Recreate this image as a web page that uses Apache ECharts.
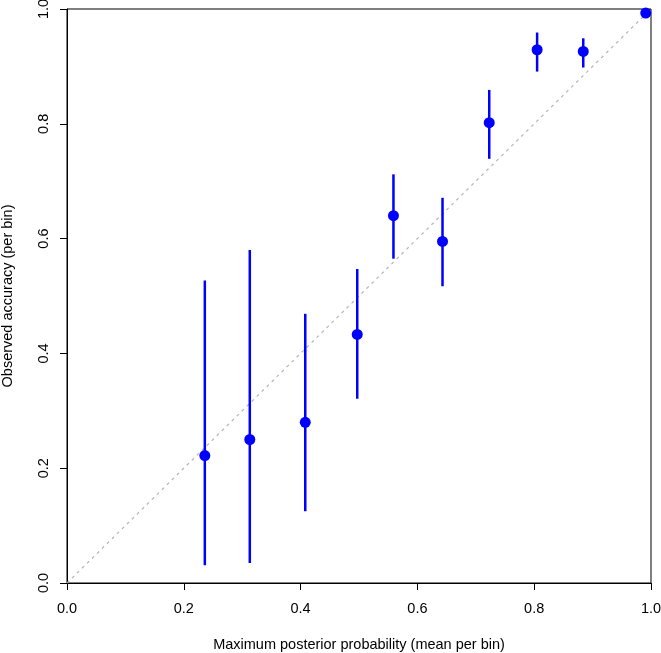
<!DOCTYPE html>
<html>
<head>
<meta charset="utf-8">
<script src="https://cdn.jsdelivr.net/npm/echarts@6/dist/echarts.min.js"></script>
<style>html,body{margin:0;padding:0;background:#fff;}#c{width:661px;height:653px;}</style>
</head>
<body>
<div id="c"></div>
<script>
var meanProb = [0.236, 0.313, 0.408, 0.497, 0.559, 0.643, 0.723, 0.805, 0.884, 0.991];
var accuracy = [0.222, 0.250, 0.280, 0.433, 0.640, 0.595, 0.802, 0.929, 0.926, 0.993];
var lower    = [0.031, 0.035, 0.125, 0.321, 0.565, 0.517, 0.739, 0.891, 0.898, 0.993];
var upper    = [0.527, 0.580, 0.469, 0.547, 0.712, 0.671, 0.859, 0.959, 0.949, 0.993];
var diagonal = [[0, 0], [1, 1]];
var tickValues = [0, 0.2, 0.4, 0.6, 0.8, 1.0];

var chart = echarts.init(document.getElementById('c'), null, {renderer: 'canvas'});
var font = 'Liberation Sans, Arial, Helvetica, sans-serif';
var errData = meanProb.map(function (x, i) { return [x, lower[i], upper[i]]; });
var ptData = meanProb.map(function (x, i) { return [x, accuracy[i]]; });

chart.setOption({
  animation: false,
  backgroundColor: '#fff',
  grid: {left: 67, right: 10, top: 9, bottom: 70, containLabel: false, outerBoundsMode: 'none',
         show: true, borderColor: '#000', borderWidth: 1, backgroundColor: 'transparent'},
  xAxis: {
    type: 'value', min: 0, max: 1, interval: 0.2,
    name: 'Maximum posterior probability (mean per bin)',
    nameLocation: 'middle', nameGap: 54,
    nameTextStyle: {fontFamily: font, fontSize: 14.5, color: '#000'},
    axisLine: {show: true, onZero: false, lineStyle: {color: '#000', width: 1}},
    axisTick: {show: true, inside: false, length: 7, lineStyle: {color: '#000'}},
    axisLabel: {fontFamily: font, fontSize: 14.5, color: '#000', margin: 18, formatter: function (v) { return v.toFixed(1); }},
    splitLine: {show: false}
  },
  yAxis: {
    type: 'value', min: 0, max: 1, interval: 0.2,
    name: 'Observed accuracy (per bin)',
    nameLocation: 'middle', nameGap: 52,
    nameTextStyle: {fontFamily: font, fontSize: 14.5, color: '#000'},
    axisLine: {show: true, onZero: false, lineStyle: {color: '#000', width: 1}},
    axisTick: {show: true, inside: false, length: 7, lineStyle: {color: '#000'}},
    axisLabel: {fontFamily: font, fontSize: 14.5, color: '#000', margin: 16, rotate: 90, formatter: function (v) { return v.toFixed(1); }},
    splitLine: {show: false}
  },
  series: [
    {
      type: 'line', data: diagonal, symbol: 'none', silent: true,
      lineStyle: {color: '#b4b4b4', width: 1.2, type: [3, 4]}, z: 1
    },
    {
      type: 'custom', data: errData, z: 2,
      renderItem: function (params, api) {
        var x = api.value(0);
        var lo = api.coord([x, api.value(1)]);
        var hi = api.coord([x, api.value(2)]);
        return {type: 'line', shape: {x1: lo[0], y1: lo[1], x2: hi[0], y2: hi[1]},
                style: {stroke: '#0000ff', lineWidth: 2.5}};
      }
    },
    {
      type: 'scatter', data: ptData, symbol: 'circle', symbolSize: 11,
      itemStyle: {color: '#0000ff', opacity: 1}, z: 3
    }
  ]
});
</script>
</body>
</html>
